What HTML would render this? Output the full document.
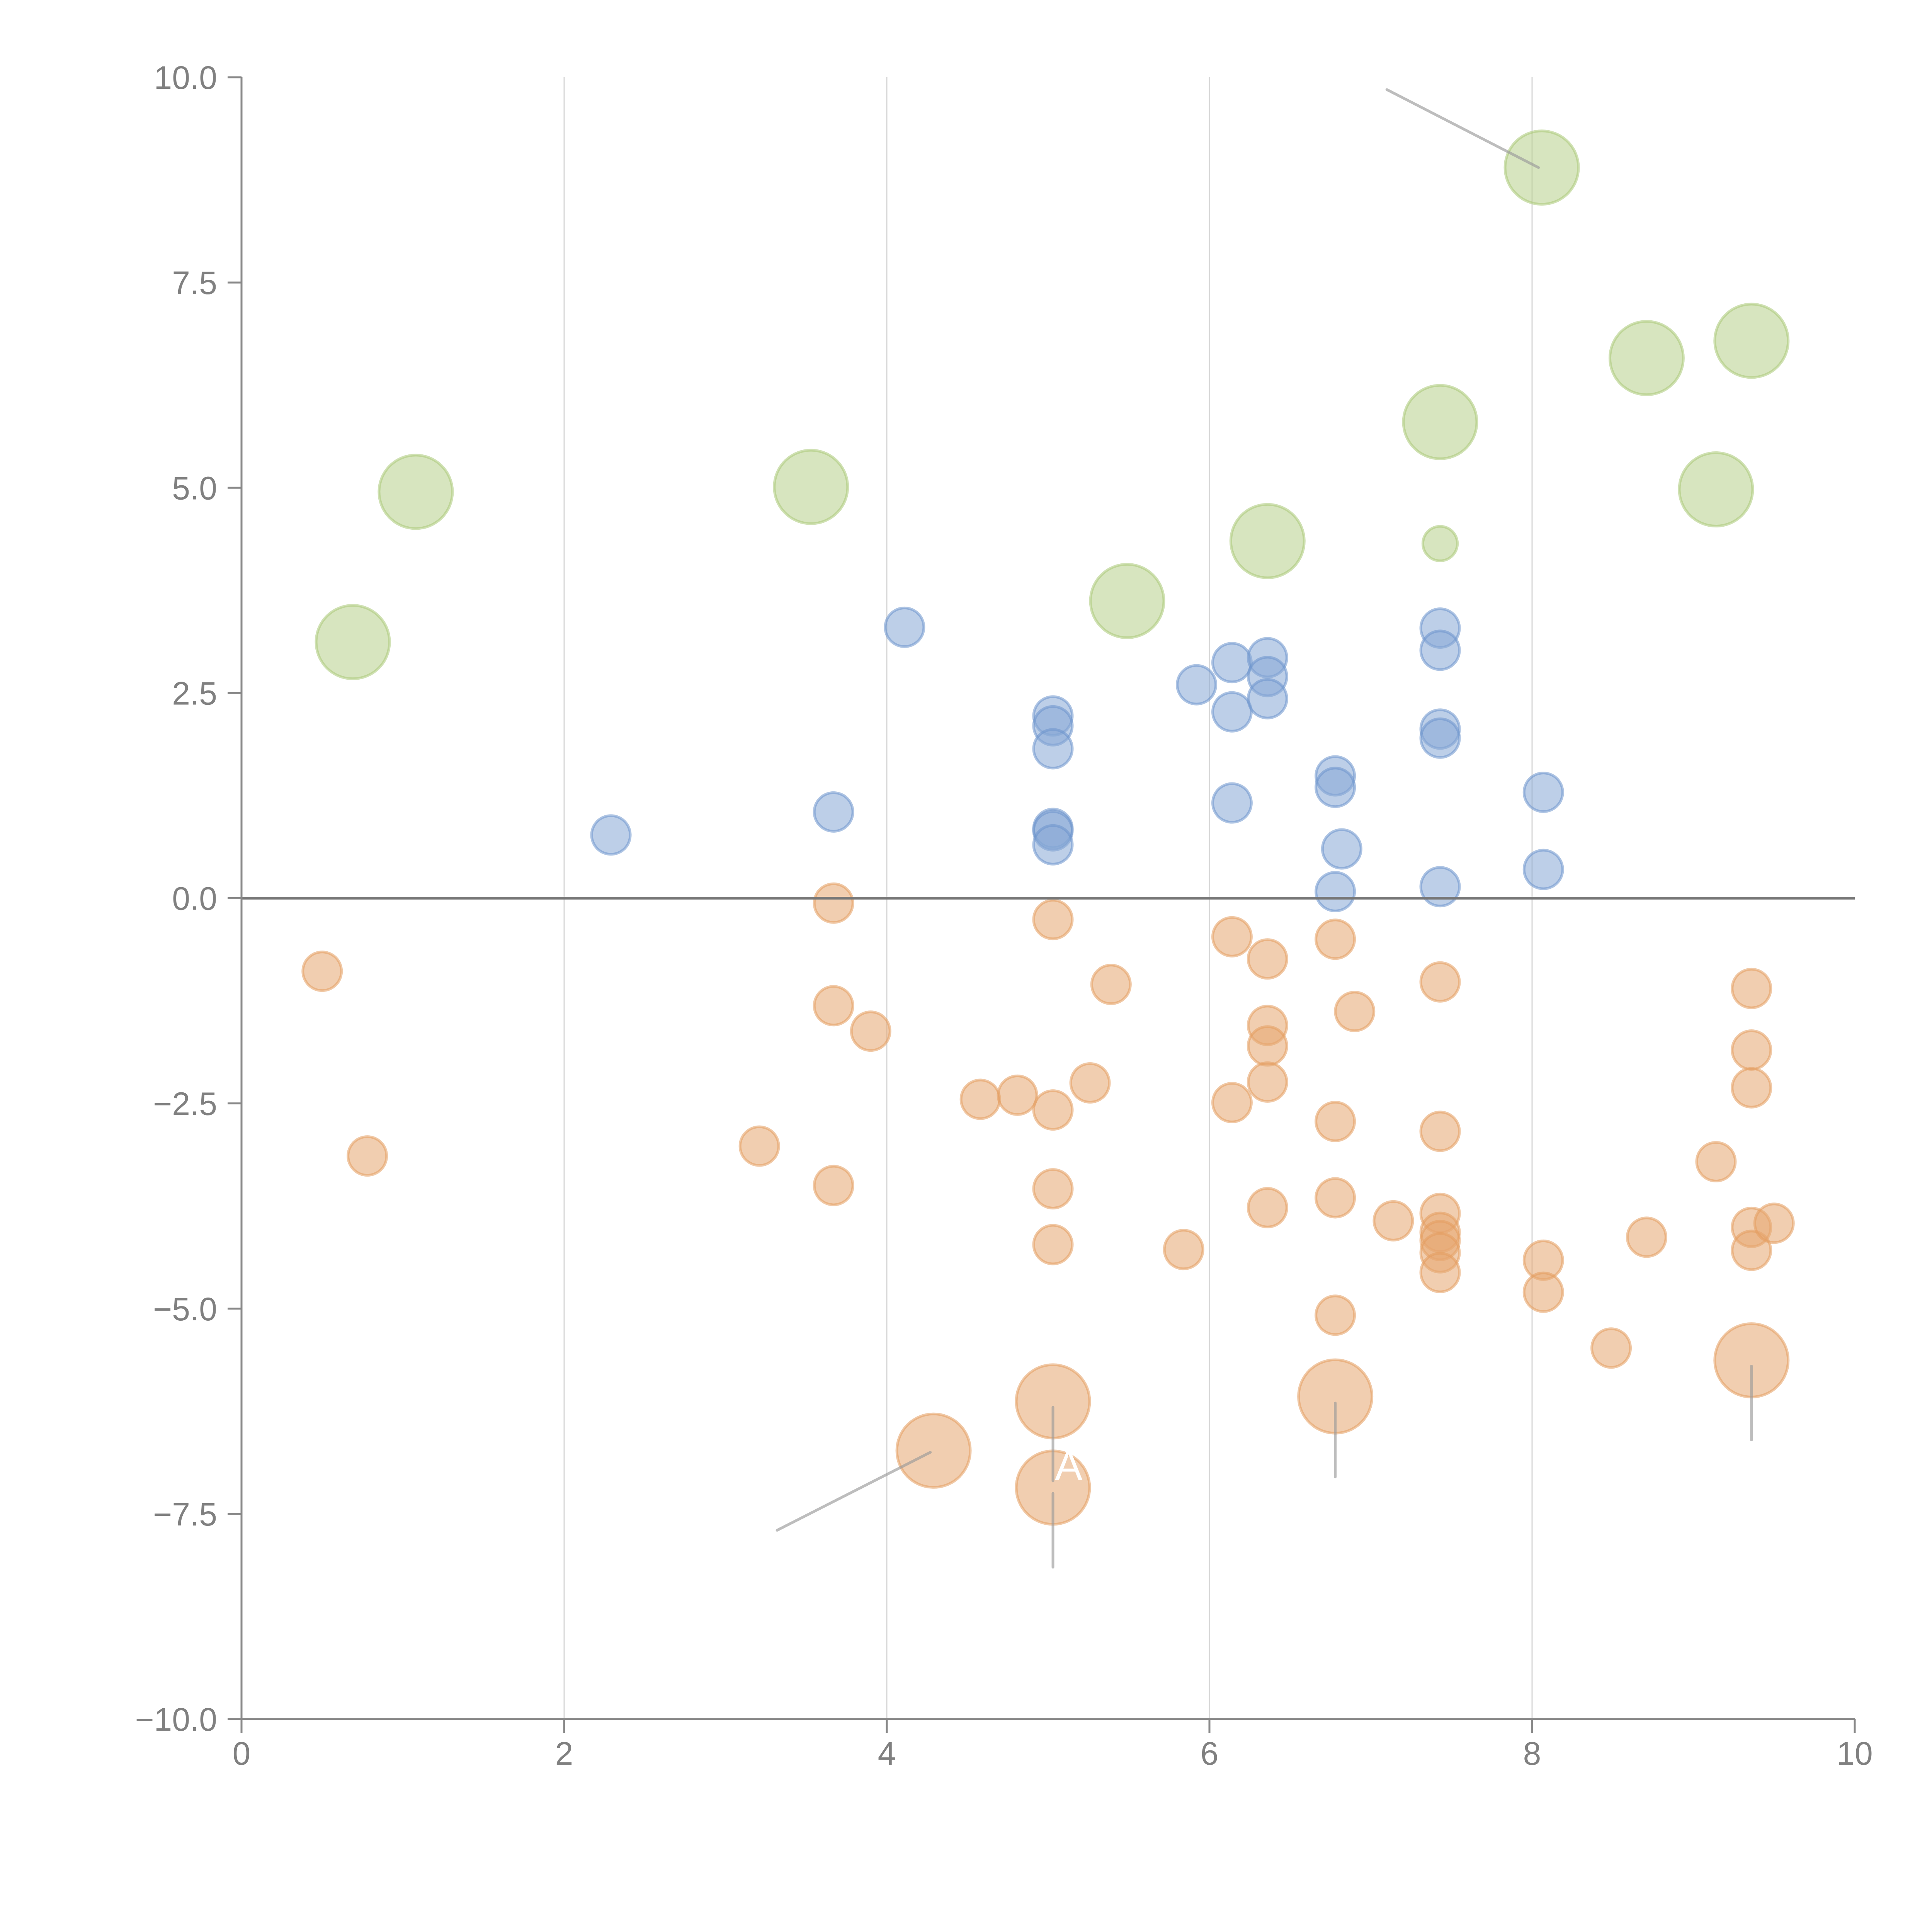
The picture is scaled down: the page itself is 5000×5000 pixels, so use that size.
<!DOCTYPE html>
<html><head><meta charset="utf-8"><style>html,body{margin:0;padding:0;background:#fff}svg{display:block}</style></head>
<body>
<svg id="chart" xmlns="http://www.w3.org/2000/svg" width="5000" height="5000" viewBox="0 0 5000 5000">
<rect width="5000" height="5000" fill="#fff"/>
<g id="grid"></g>
<g id="marks"></g>
<g id="annot"></g>
<g id="axes"></g>
</svg>
<script>
const xTicks = [0, 2, 4, 6, 8, 10];
const xTickLabels = ["0", "2", "4", "6", "8", "10"];
const yTicks = [-10, -7.5, -5, -2.5, 0, 2.5, 5, 7.5, 10];
const yTickLabels = ["\u221210.0", "\u22127.5", "\u22125.0", "\u22122.5", "0.0", "2.5", "5.0", "7.5", "10.0"];

const greenX = [0.69, 1.08, 3.53, 5.49, 6.36, 7.43, 8.06, 8.71, 9.36, 9.14, 7.43];
const greenY = [3.12, 4.95, 5.01, 3.62, 4.35, 5.80, 8.90, 6.58, 6.79, 4.98, 4.32];
const greenSize = [1, 1, 1, 1, 1, 1, 1, 1, 1, 1, 0.47];

const blueX = [2.29, 3.67, 4.11, 5.03, 5.03, 5.03, 5.03, 5.03, 5.03, 5.92, 6.14, 6.14, 6.14, 6.36, 6.36, 6.36, 6.78, 6.78, 6.82, 6.78, 7.43, 7.43, 7.43, 7.43, 7.43, 8.07, 8.07];
const blueY = [0.77, 1.05, 3.30, 2.22, 2.10, 1.82, 0.85, 0.82, 0.65, 2.60, 2.87, 2.27, 1.16, 2.93, 2.70, 2.43, 1.49, 1.35, 0.60, 0.08, 3.29, 3.02, 2.06, 1.95, 0.14, 1.29, 0.35];

const orangeX = [0.50, 0.78, 3.21, 3.67, 3.67, 3.90, 3.67, 4.58, 4.81, 5.03, 5.03, 5.03, 5.03, 5.26, 5.39, 5.84, 6.14, 6.14, 6.36, 6.36, 6.36, 6.36, 6.36, 6.78, 6.90, 6.78, 6.78, 6.78, 7.14, 7.43, 7.43, 7.43, 7.43, 7.43, 7.43, 7.43, 8.07, 8.07, 8.49, 8.71, 9.14, 9.36, 9.36, 9.36, 9.36, 9.36, 9.50];
const orangeY = [-0.89, -3.14, -3.02, -0.06, -1.31, -1.62, -3.50, -2.45, -2.40, -0.26, -2.58, -3.54, -4.22, -2.25, -1.05, -4.28, -0.47, -2.49, -0.74, -1.55, -1.80, -2.24, -3.77, -0.50, -1.38, -2.72, -3.65, -5.08, -3.93, -1.02, -2.84, -3.84, -4.07, -4.17, -4.32, -4.56, -4.41, -4.80, -5.48, -4.13, -3.21, -1.10, -1.85, -2.31, -4.01, -4.29, -3.96];
const orangeBigX = [4.29, 5.03, 5.03, 6.78, 9.36];
const orangeBigY = [-6.73, -6.13, -7.18, -6.07, -5.63];

const leaderFromX = [7.10, 3.32, 5.03, 5.03, 6.78, 9.36];
const leaderFromY = [9.85, -7.70, -6.20, -7.25, -6.15, -5.70];
const leaderToX = [8.04, 4.27, 5.03, 5.03, 6.78, 9.36];
const leaderToY = [8.90, -6.75, -7.10, -8.15, -7.05, -6.60];

const X0 = 625, X1 = 4800, Y0 = 4449, Y1 = 200;
function sx(v){ return X0 + (v - 0) / 10 * (X1 - X0); }
function sy(v){ return Y0 - (v + 10) / 20 * (Y0 - Y1); }
const NS = "http://www.w3.org/2000/svg";
function mk(tag, parent, attrs){ const e = document.createElementNS(NS, tag); for (const k in attrs) e.setAttribute(k, attrs[k]); parent.appendChild(e); return e; }

const grid = document.getElementById('grid');
[2,4,6,8].forEach(function(v){
  const l = mk('line', grid, {x1: sx(v), x2: sx(v), y1: Y1, y2: Y0, stroke: '#d6d6d6', 'stroke-width': 3});
  
  
});

const marks = document.getElementById('marks');
function bubble(x, y, r, fill, stroke, name){
  const c = mk('circle', marks, {cx: sx(x), cy: sy(y), r: r, fill: fill, 'fill-opacity': 0.55, stroke: stroke, 'stroke-opacity': 0.55, 'stroke-width': 7});
  
  
}
greenX.forEach(function(x, i){ bubble(x, greenY[i], 95 * greenSize[i], '#b7d08a', '#a9c877', 'green-bubble'); });
blueX.forEach(function(x, i){ bubble(x, blueY[i], 50, '#86a7d6', '#6b93cc', 'blue-bubble'); });
orangeX.forEach(function(x, i){ bubble(x, orangeY[i], 50, '#e6a670', '#e39d5f', 'orange-bubble'); });
orangeBigX.forEach(function(x, i){ bubble(x, orangeBigY[i], 95, '#e6a670', '#e39d5f', 'orange-large-bubble'); });

const annot = document.getElementById('annot');
leaderFromX.forEach(function(x, i){
  const l = mk('line', annot, {x1: sx(x), y1: sy(leaderFromY[i]), x2: sx(leaderToX[i]), y2: sy(leaderToY[i]), stroke: '#9a9a9a', 'stroke-opacity': 0.65, 'stroke-width': 7, 'stroke-linecap': 'round'});
  
  
});
const t = mk('text', annot, {x: sx(5.03) + 5, y: sy(-7.18) - 20, fill: '#fff', 'font-size': 107, 'font-family': 'Liberation Sans, sans-serif'});
t.textContent = 'A';



const axes = document.getElementById('axes');
const zl = mk('line', axes, {x1: X0, x2: X1, y1: sy(0), y2: sy(0), stroke: '#777', 'stroke-width': 7});


const ya = mk('line', axes, {x1: X0, x2: X0, y1: Y1, y2: Y0, stroke: '#888', 'stroke-width': 5});


const xa = mk('line', axes, {x1: X0, x2: X1, y1: Y0, y2: Y0, stroke: '#888', 'stroke-width': 5});


xTicks.forEach(function(v, i){
  const tk = mk('line', axes, {x1: sx(v), x2: sx(v), y1: Y0, y2: Y0 + 36, stroke: '#888', 'stroke-width': 5});
  
  
  const lb = mk('text', axes, {x: sx(v), y: 4567, 'text-anchor': 'middle', fill: '#808080', 'font-size': 84, 'font-family': 'Liberation Sans, sans-serif'});
  lb.textContent = xTickLabels[i];
  
  
});
yTicks.forEach(function(v, i){
  const tk = mk('line', axes, {x1: X0 - 36, x2: X0, y1: sy(v), y2: sy(v), stroke: '#888', 'stroke-width': 5});
  
  
  const lb = mk('text', axes, {x: 562, y: sy(v) + 30, 'text-anchor': 'end', fill: '#808080', 'font-size': 84, 'font-family': 'Liberation Sans, sans-serif'});
  lb.textContent = yTickLabels[i];
  
  
});
</script>
</body></html>
